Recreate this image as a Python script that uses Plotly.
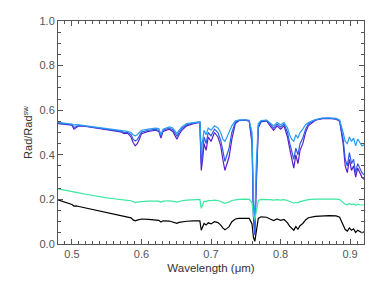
import plotly.graph_objects as go

wl = [0.480, 0.490, 0.500, 0.503, 0.506, 0.510, 0.520, 0.530, 0.540, 0.550,
      0.560, 0.570, 0.575, 0.580, 0.585, 0.588, 0.591, 0.594, 0.597, 0.600,
      0.610, 0.620, 0.625, 0.628, 0.631, 0.640, 0.645, 0.648, 0.651, 0.654,
      0.658, 0.665, 0.675, 0.684, 0.686, 0.688, 0.690, 0.693, 0.696, 0.700,
      0.705, 0.710, 0.714, 0.717, 0.720, 0.723, 0.726, 0.730, 0.735, 0.740,
      0.750, 0.755, 0.759, 0.761, 0.763, 0.765, 0.768, 0.772, 0.780, 0.785,
      0.790, 0.795, 0.800, 0.805, 0.810, 0.813, 0.816, 0.819, 0.822, 0.825,
      0.828, 0.832, 0.836, 0.840, 0.850, 0.860, 0.870, 0.880, 0.885, 0.890,
      0.893, 0.896, 0.899, 0.902, 0.905, 0.908, 0.911, 0.914, 0.917, 0.920]

purple = [0.540, 0.537, 0.533, 0.515, 0.522, 0.530, 0.527, 0.522, 0.518, 0.514,
          0.508, 0.503, 0.495, 0.497, 0.480, 0.455, 0.440, 0.450, 0.470, 0.495,
          0.505, 0.510, 0.505, 0.475, 0.505, 0.515, 0.505, 0.485, 0.470, 0.490,
          0.510, 0.530, 0.540, 0.545, 0.330, 0.380, 0.450, 0.420, 0.480, 0.460,
          0.500, 0.480, 0.440, 0.380, 0.330, 0.360, 0.390, 0.470, 0.540, 0.553,
          0.555, 0.550, 0.450, 0.120, 0.050, 0.250, 0.520, 0.548, 0.552, 0.530,
          0.510, 0.530, 0.515, 0.530, 0.480, 0.430, 0.380, 0.340, 0.400, 0.360,
          0.420, 0.450, 0.500, 0.530, 0.555, 0.562, 0.563, 0.560, 0.550, 0.450,
          0.350, 0.320, 0.380, 0.330, 0.350, 0.300, 0.340, 0.320, 0.300, 0.290]

blue = [0.542, 0.539, 0.535, 0.522, 0.527, 0.532, 0.528, 0.524, 0.520, 0.516,
        0.511, 0.506, 0.500, 0.501, 0.490, 0.470, 0.462, 0.468, 0.484, 0.502,
        0.510, 0.514, 0.510, 0.484, 0.510, 0.520, 0.512, 0.495, 0.484, 0.500,
        0.518, 0.535, 0.543, 0.546, 0.360, 0.410, 0.480, 0.450, 0.500, 0.485,
        0.515, 0.500, 0.465, 0.420, 0.370, 0.400, 0.430, 0.500, 0.546, 0.554,
        0.556, 0.552, 0.470, 0.140, 0.040, 0.280, 0.530, 0.551, 0.554, 0.538,
        0.520, 0.538, 0.525, 0.538, 0.500, 0.455, 0.410, 0.380, 0.430, 0.400,
        0.450, 0.475, 0.515, 0.538, 0.556, 0.563, 0.564, 0.561, 0.552, 0.470,
        0.380, 0.350, 0.410, 0.360, 0.380, 0.320, 0.360, 0.340, 0.320, 0.310]

lightblue = [0.545, 0.541, 0.538, 0.533, 0.535, 0.534, 0.530, 0.526, 0.522, 0.518,
             0.514, 0.510, 0.506, 0.505, 0.500, 0.490, 0.485, 0.490, 0.500, 0.510,
             0.515, 0.520, 0.518, 0.490, 0.515, 0.525, 0.520, 0.505, 0.495, 0.510,
             0.525, 0.540, 0.545, 0.548, 0.420, 0.460, 0.510, 0.490, 0.520, 0.510,
             0.530, 0.520, 0.500, 0.470, 0.460, 0.480, 0.500, 0.530, 0.552, 0.556,
             0.557, 0.555, 0.500, 0.200, 0.100, 0.350, 0.540, 0.554, 0.556, 0.545,
             0.530, 0.545, 0.535, 0.545, 0.520, 0.490, 0.470, 0.460, 0.490, 0.475,
             0.500, 0.515, 0.535, 0.545, 0.558, 0.565, 0.566, 0.563, 0.555, 0.500,
             0.460, 0.450, 0.480, 0.460, 0.475, 0.440, 0.470, 0.455, 0.440, 0.445]

green = [0.247, 0.240, 0.234, 0.232, 0.231, 0.229, 0.223, 0.217, 0.212, 0.207,
         0.203, 0.198, 0.196, 0.196, 0.194, 0.190, 0.186, 0.188, 0.190, 0.190,
         0.192, 0.193, 0.192, 0.187, 0.192, 0.194, 0.193, 0.190, 0.188, 0.192,
         0.194, 0.197, 0.199, 0.200, 0.160, 0.175, 0.192, 0.190, 0.196, 0.194,
         0.197, 0.195, 0.190, 0.184, 0.182, 0.186, 0.188, 0.195, 0.199, 0.200,
         0.201, 0.200, 0.185, 0.130, 0.110, 0.150, 0.195, 0.200, 0.201, 0.199,
         0.197, 0.199, 0.197, 0.199, 0.195, 0.190, 0.186, 0.183, 0.188, 0.185,
         0.190, 0.194, 0.197, 0.199, 0.201, 0.202, 0.202, 0.201, 0.199, 0.185,
         0.178, 0.176, 0.182, 0.177, 0.180, 0.174, 0.178, 0.176, 0.174, 0.175]

black = [0.198, 0.187, 0.177, 0.170, 0.171, 0.168, 0.161, 0.153, 0.146, 0.139,
         0.132, 0.126, 0.123, 0.121, 0.117, 0.108, 0.104, 0.107, 0.110, 0.112,
         0.110, 0.108, 0.106, 0.099, 0.104, 0.103, 0.100, 0.096, 0.093, 0.097,
         0.100, 0.102, 0.104, 0.104, 0.062, 0.075, 0.092, 0.085, 0.095, 0.090,
         0.100, 0.096, 0.085, 0.072, 0.064, 0.070, 0.078, 0.100, 0.112, 0.115,
         0.117, 0.115, 0.090, 0.030, 0.012, 0.060, 0.115, 0.122, 0.120, 0.112,
         0.105, 0.112, 0.106, 0.110, 0.095, 0.080, 0.070, 0.062, 0.078, 0.066,
         0.082, 0.092, 0.108, 0.118, 0.124, 0.126, 0.127, 0.126, 0.120, 0.085,
         0.065, 0.058, 0.072, 0.062, 0.068, 0.052, 0.062, 0.056, 0.050, 0.055]

x_ticks = [0.5, 0.6, 0.7, 0.8, 0.9]
y_ticks = [0.0, 0.2, 0.4, 0.6, 0.8, 1.0]

series = [
    (purple, "#5a1ec8"),
    (blue, "#2f5ae6"),
    (lightblue, "#2a9cf2"),
    (green, "#3ae8a0"),
    (black, "#000000"),
]

fig = go.Figure()
for vals, col in series:
    fig.add_trace(go.Scatter(x=wl, y=vals, mode="lines",
                             line=dict(color=col, width=1.2), showlegend=False))

FONT = "Liberation Sans, Arial, sans-serif"
axis_common = dict(
    showline=True, linecolor="#555555", linewidth=1, mirror="ticks",
    ticks="inside", ticklen=5, tickcolor="#555555", tickwidth=1,
    showgrid=False, zeroline=False,
    tickfont=dict(family=FONT, size=11, color="#555555"),
)

fig.update_xaxes(range=[0.48, 0.92], tickvals=x_ticks,
                 ticktext=[f"{v:.1f}" for v in x_ticks],
                 minor=dict(dtick=0.01, ticks="inside", ticklen=3, tickcolor="#555555"),
                 automargin=False,
                 title=dict(text="Wavelength (μm)", standoff=4,
                            font=dict(family=FONT, size=11.5, color="#333333")),
                 **axis_common)
fig.update_yaxes(range=[0, 1.0], tickvals=y_ticks,
                 ticktext=[f"{v:.1f}" for v in y_ticks],
                 minor=dict(dtick=0.05, ticks="inside", ticklen=3, tickcolor="#555555"),
                 automargin=True,
                 title=dict(text="Rad/Rad<sup>sw</sup>", standoff=4,
                            font=dict(family=FONT, size=11, color="#333333")),
                 **axis_common)

fig.update_layout(width=382, height=281, margin=dict(l=58, r=18, t=21, b=37),
                  paper_bgcolor="white", plot_bgcolor="white")

fig.write_html("out.html", config={"displayModeBar": False},
               post_script="document.body.style.margin='0';document.body.style.overflow='hidden';")
